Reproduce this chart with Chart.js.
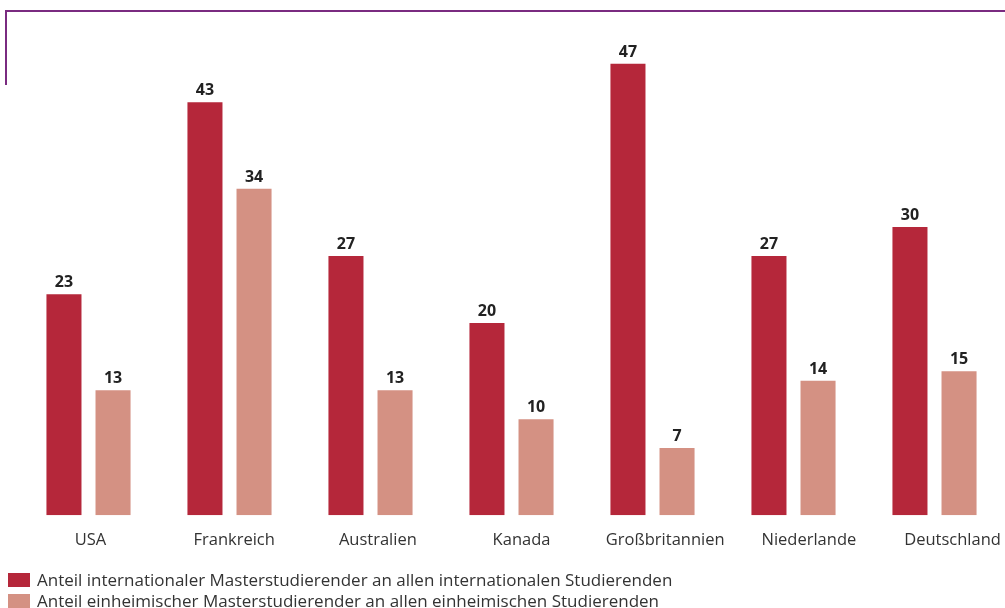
<!DOCTYPE html>
<html lang="de">
<head>
<meta charset="utf-8">
<script src="https://cdn.jsdelivr.net/npm/chart.js@4.4.1/dist/chart.umd.min.js"></script>
<style>
  html, body { margin: 0; padding: 0; background: #fff; }
  #wrap { position: relative; width: 1005px; height: 608px; overflow: hidden; font-family: "Open Sans", "DejaVu Sans", sans-serif; }
  #frame {
    position: absolute; left: 5px; top: 10px; width: 1000px; height: 75px;
    border-top: 2px solid #7a2b80; border-left: 2px solid #7a2b80;
    box-sizing: border-box;
  }
  canvas { position: absolute; left: 0; top: 0; }
  #legende { position: absolute; left: 8px; top: 569px; margin: 0; padding: 0; list-style: none; }
  #legende li { display: flex; align-items: center; height: 21px; font-size: 17px; color: #333; white-space: nowrap; }
  #legende span.box { display: inline-block; width: 22px; height: 14px; margin-right: 7px; }
</style>
</head>
<body>
<div id="wrap">
  <div id="frame"></div>
  <canvas id="chart" width="1005" height="608"></canvas>
  <ul id="legende"></ul>
</div>
<script>
// Länder (Kategorien)
const laender = ['USA', 'Frankreich', 'Australien', 'Kanada', 'Großbritannien', 'Niederlande', 'Deutschland'];
// Anteil in Prozent
const internationaleWerte = [23, 43, 27, 20, 47, 27, 30];
const einheimischeWerte = [13, 34, 13, 10, 7, 14, 15];
// Legendentexte
const serienNamen = [
  'Anteil internationaler Masterstudierender an allen internationalen Studierenden',
  'Anteil einheimischer Masterstudierender an allen einheimischen Studierenden'
];
const farben = ['#b5273a', '#d49183'];

const FONT = '"Open Sans", "DejaVu Sans", sans-serif';

// Zahlen über den Balken
const wertBeschriftung = {
  id: 'wertBeschriftung',
  afterDatasetsDraw(chart) {
    const ctx = chart.ctx;
    ctx.save();
    ctx.font = 'bold 16px ' + FONT;
    ctx.fillStyle = '#222';
    ctx.textAlign = 'center';
    ctx.textBaseline = 'alphabetic';
    chart.data.datasets.forEach((ds, i) => {
      chart.getDatasetMeta(i).data.forEach((bar, j) => {
        ctx.fillText(String(ds.data[j]), bar.x, bar.y - 7);
      });
    });
    ctx.restore();
  }
};

const chart = new Chart(document.getElementById('chart'), {
  type: 'bar',
  data: {
    labels: laender,
    datasets: serienNamen.map((name, i) => ({
      label: name,
      data: i === 0 ? internationaleWerte : einheimischeWerte,
      backgroundColor: farben[i]
    }))
  },
  options: {
    responsive: false,
    animation: false,
    devicePixelRatio: 1,
    categoryPercentage: 0.696,
    barPercentage: 0.714,
    layout: { padding: { left: 18, right: 0, top: 35, bottom: 43 } },
    scales: {
      x: { display: false },
      // Beschriftungsachse: Ländernamen etwas weiter gespreizt als die Balkengruppen
      xBeschriftung: {
        type: 'linear',
        position: 'bottom',
        bounds: 'data',
        offset: false,
        min: -0.5045,
        max: 6.365,
        afterBuildTicks: scale => {
          scale.ticks = laender.map((_, i) => ({ value: i }));
        },
        // Randbeschriftungen dürfen den Zeichenbereich nicht verkleinern
        afterFit: scale => {
          scale.paddingLeft = 0;
          scale.paddingRight = 0;
        },
        grid: { display: false, drawTicks: false, offset: false },
        border: { display: false },
        ticks: {
          autoSkip: false,
          maxRotation: 0,
          color: '#333',
          font: { family: FONT, size: 16.5 },
          padding: 15,
          callback: v => laender[Math.round(v)] ?? ''
        }
      },
      y: { display: false, min: 0, max: 50 }
    },
    plugins: {
      tooltip: { enabled: false },
      legend: { display: false }
    }
  },
  plugins: [wertBeschriftung]
});

// Legende aus den Datensätzen erzeugen
const ul = document.getElementById('legende');
chart.data.datasets.forEach(ds => {
  const li = document.createElement('li');
  const box = document.createElement('span');
  box.className = 'box';
  box.style.background = ds.backgroundColor;
  li.appendChild(box);
  li.appendChild(document.createTextNode(ds.label));
  ul.appendChild(li);
});
</script>
</body>
</html>
